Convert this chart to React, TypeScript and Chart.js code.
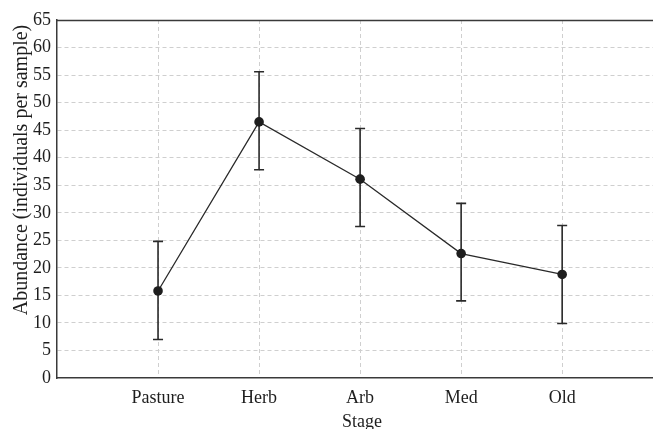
import React, { useEffect, useRef } from "react";
import { Chart, registerables } from "chart.js";

Chart.register(...registerables);

const stages = ["Pasture", "Herb", "Arb", "Med", "Old"];
const means = [15.8, 46.5, 36.1, 22.6, 18.8];
const lowerCI = [7.0, 37.8, 27.5, 14.0, 9.9];
const upperCI = [24.8, 55.6, 45.3, 31.7, 27.7];
const yTicks = [0, 5, 10, 15, 20, 25, 30, 35, 40, 45, 50, 55, 60, 65];
const xTitle = "Stage";
const yTitle = "Abundance (individuals per sample)";

const FONT = '"Liberation Serif", "Times New Roman", serif';
const INK = "#1e1e1e";

const errorBarPlugin = {
  id: "errorBars",
  beforeDatasetsDraw(chart: any) {
    const { ctx, scales } = chart;
    const xs = scales.x;
    const ys = scales.y;
    ctx.save();
    ctx.strokeStyle = "#2a2a2a";
    ctx.lineWidth = 1.6;
    ctx.setLineDash([]);
    for (let i = 0; i < means.length; i++) {
      const x = xs.getPixelForValue(i);
      const yl = ys.getPixelForValue(lowerCI[i]);
      const yu = ys.getPixelForValue(upperCI[i]);
      ctx.beginPath();
      ctx.moveTo(x, yl);
      ctx.lineTo(x, yu);
      ctx.moveTo(x - 5, yl);
      ctx.lineTo(x + 5, yl);
      ctx.moveTo(x - 5, yu);
      ctx.lineTo(x + 5, yu);
      ctx.stroke();
    }
    ctx.restore();
  },
};

const framePlugin = {
  id: "frame",
  afterDraw(chart: any) {
    const { ctx, chartArea } = chart;
    ctx.save();
    ctx.strokeStyle = "#3a3a3a";
    ctx.lineWidth = 1.5;
    ctx.setLineDash([]);
    ctx.beginPath();
    ctx.moveTo(chartArea.left, Math.round(chartArea.top) + 0.5);
    ctx.lineTo(chartArea.right, Math.round(chartArea.top) + 0.5);
    ctx.stroke();

    ctx.fillStyle = INK;
    ctx.font = `18px ${FONT}`;
    ctx.textAlign = "center";
    ctx.textBaseline = "alphabetic";
    ctx.fillText(xTitle, 362, 427);

    ctx.translate(22, 170);
    ctx.rotate(-Math.PI / 2);
    ctx.font = `20px ${FONT}`;
    ctx.textBaseline = "middle";
    ctx.fillText(yTitle, 0, 0);
    ctx.restore();
  },
};

export default function App() {
  const ref = useRef<HTMLCanvasElement | null>(null);

  useEffect(() => {
    if (!ref.current) return;
    const chart = new Chart(ref.current, {
      type: "line",
      data: {
        datasets: [
          {
            data: means.map((m, i) => ({ x: i, y: m })),
            borderColor: "#2a2a2a",
            borderWidth: 1.3,
            backgroundColor: INK,
            pointBackgroundColor: INK,
            pointBorderColor: INK,
            pointRadius: 4.8,
            pointBorderWidth: 0,
            tension: 0,
            fill: false,
          },
        ],
      },
      options: {
        animation: false,
        responsive: false,
        events: [],
        layout: { padding: { top: 20, left: 0, right: 0, bottom: 0 } },
        plugins: {
          legend: { display: false },
          tooltip: { enabled: false },
        },
        scales: {
          x: {
            type: "linear",
            min: -1,
            max: 5,
            afterBuildTicks: (s: any) => {
              s.ticks = stages.map((_, i) => ({ value: i }));
            },
            afterFit: (s: any) => {
              s.height = 51;
            },
            ticks: {
              callback: (v: any) => stages[v as number] ?? "",
              font: { family: FONT, size: 18 },
              color: INK,
              padding: 9,
              maxRotation: 0,
              autoSkip: false,
            },
            grid: {
              color: "#cfcfcf",
              lineWidth: 1,
              drawTicks: false,
            },
            border: { display: true, color: "#3a3a3a", width: 1.5, dash: [4, 3] },
          },
          y: {
            type: "linear",
            min: 0,
            max: 65,
            afterBuildTicks: (s: any) => {
              s.ticks = yTicks.map((v) => ({ value: v }));
            },
            afterFit: (s: any) => {
              s.width = 57;
            },
            ticks: {
              font: { family: FONT, size: 18 },
              color: INK,
              padding: 6,
            },
            grid: {
              color: (c: any) =>
                c.tick && (c.tick.value === 0 || c.tick.value === 65) ? "rgba(0,0,0,0)" : "#cfcfcf",
              lineWidth: 1,
              drawTicks: false,
            },
            border: { display: true, color: "#3a3a3a", width: 1.5, dash: [4, 3] },
          },
        },
      },
      plugins: [errorBarPlugin, framePlugin],
    });
    return () => chart.destroy();
  }, []);

  return (
    <div style={{ position: "fixed", left: 0, top: 0, width: 653, height: 429, overflow: "hidden", background: "#fff" }}>
      <canvas ref={ref} width={668} height={429} style={{ display: "block" }} />
    </div>
  );
}
